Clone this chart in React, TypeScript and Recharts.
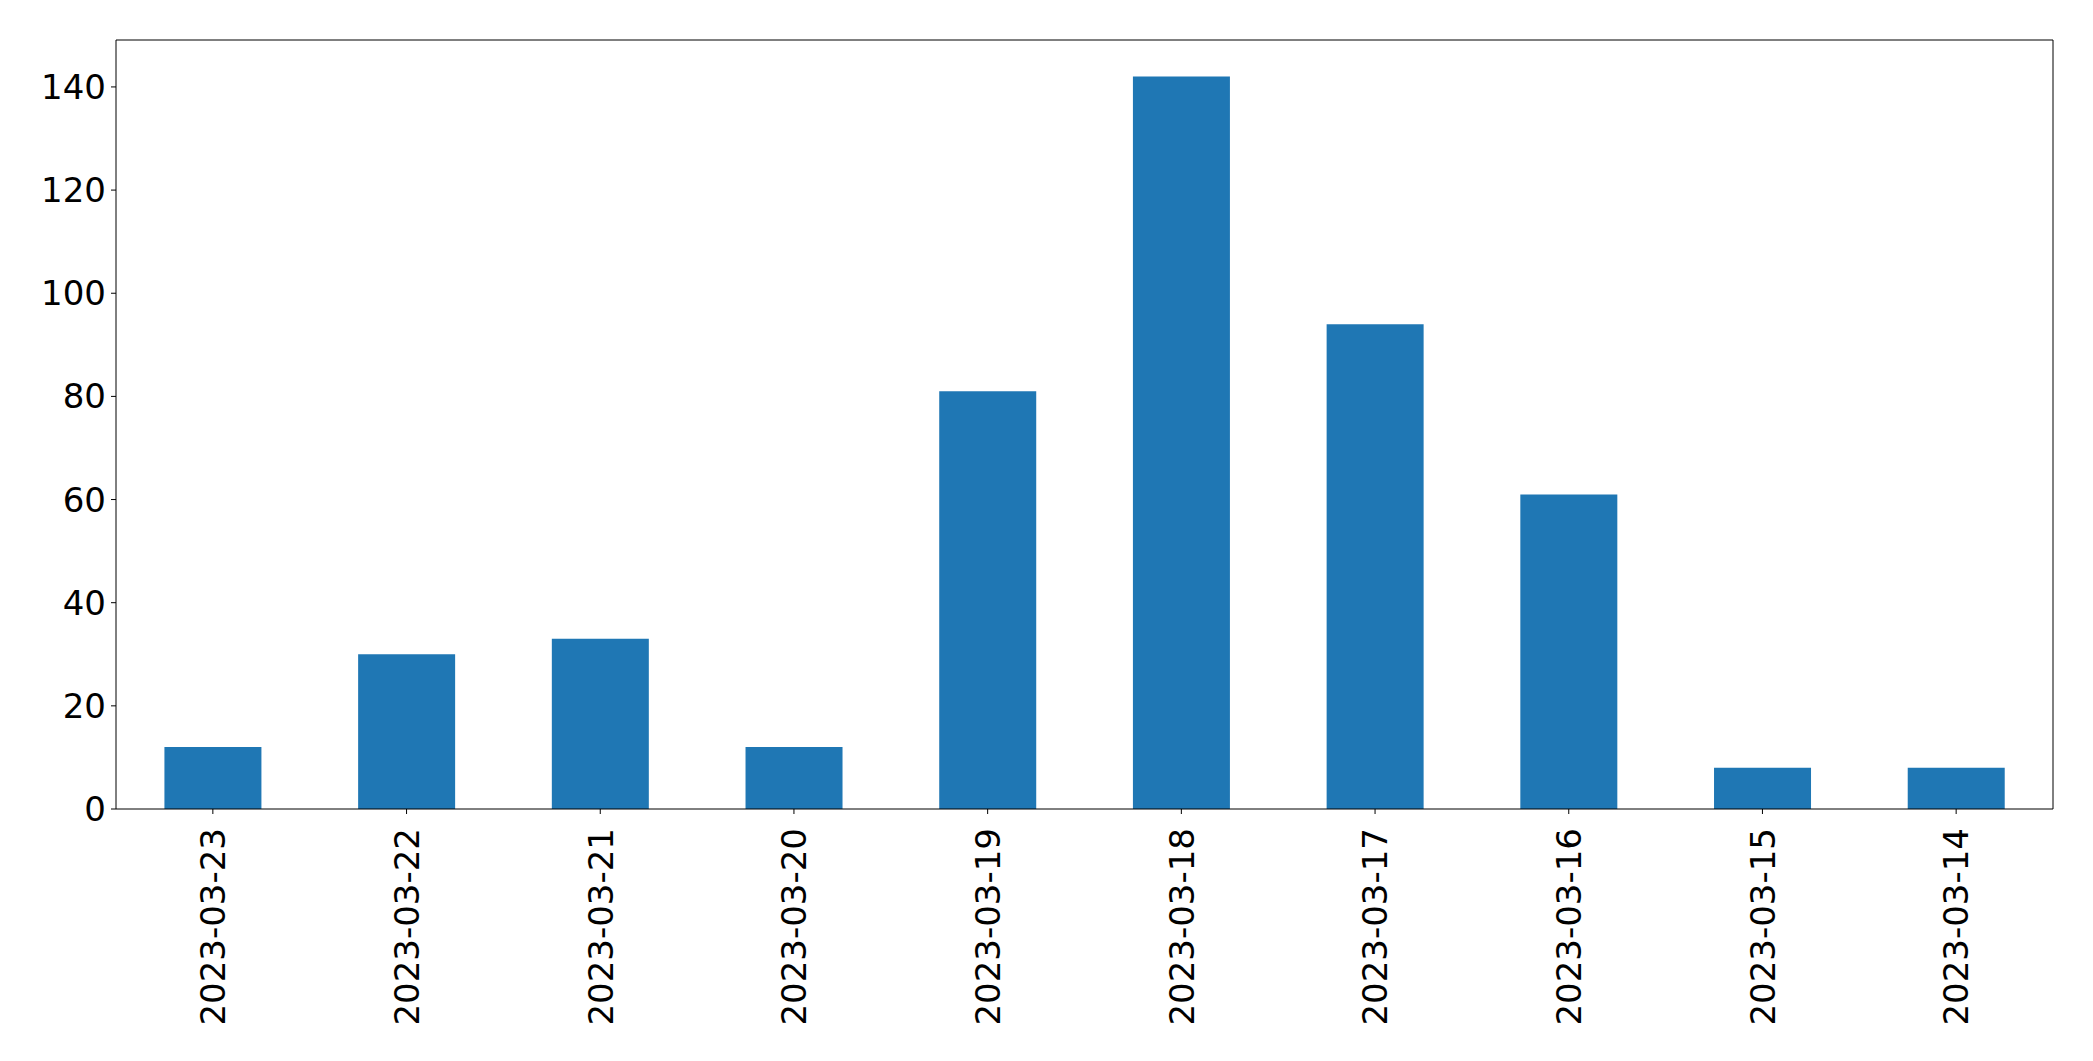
import { BarChart, Bar, XAxis, YAxis } from "recharts";

const FONT = "'DejaVu Sans', sans-serif";
const BAR_BLUE = "#1f77b4";

const dates = [
  "2023-03-23",
  "2023-03-22",
  "2023-03-21",
  "2023-03-20",
  "2023-03-19",
  "2023-03-18",
  "2023-03-17",
  "2023-03-16",
  "2023-03-15",
  "2023-03-14",
];
const counts = [12, 30, 33, 12, 81, 142, 94, 61, 8, 8];
const yTicks = [0, 20, 40, 60, 80, 100, 120, 140];

const data = dates.map((d, i) => ({ date: d, count: counts[i] }));

// vertical date labels under each bar
function DateTick({ x, y, payload }: any) {
  return (
    <g transform={`translate(${x},${y + 12})`}>
      <text
        transform="rotate(-90)"
        textAnchor="end"
        dy="0.36em"
        fontSize={34}
        fontFamily={FONT}
        fill="#000"
      >
        {payload.value}
      </text>
    </g>
  );
}

export default function App() {
  return (
    <div style={{ position: "absolute", left: 0, top: 0, width: 2093, height: 1061, background: "#fff" }}>
      <BarChart
        width={2093}
        height={1061}
        data={data}
        barCategoryGap="25%"
        margin={{ top: 39, right: 39, left: 16, bottom: 32 }}
      >
        <XAxis
          dataKey="date"
          interval={0}
          height={220}
          stroke="#000"
          tickSize={5}
          tick={<DateTick />}
        />
        <XAxis
          xAxisId="top"
          dataKey="date"
          orientation="top"
          height={1}
          stroke="#000"
          tick={false}
          tickLine={false}
        />
        <YAxis
          domain={[0, 149.1]}
          ticks={yTicks}
          width={100}
          stroke="#000"
          tickSize={5}
          tickMargin={5}
          tick={{ fontSize: 34, fontFamily: FONT, fill: "#000" }}
        />
        <YAxis
          yAxisId="right"
          orientation="right"
          domain={[0, 149.1]}
          width={1}
          stroke="#000"
          tick={false}
          tickLine={false}
        />
        <Bar dataKey="count" fill={BAR_BLUE} isAnimationActive={false} />
      </BarChart>
    </div>
  );
}
